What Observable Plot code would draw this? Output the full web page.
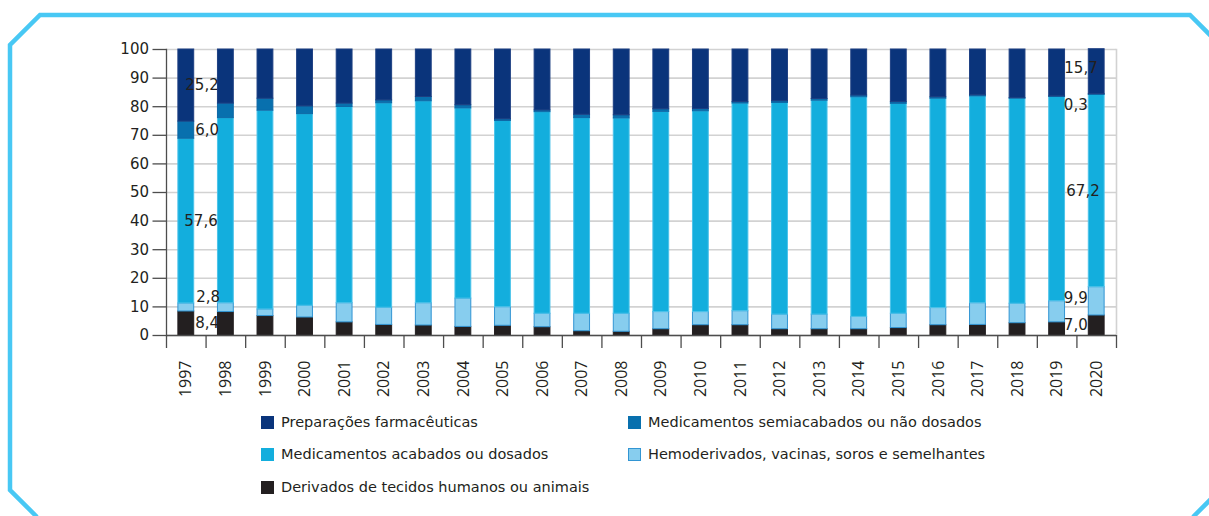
<!DOCTYPE html>
<html>
<head>
<meta charset="utf-8">
<script src="https://cdn.jsdelivr.net/npm/d3@7"></script>
<script src="https://cdn.jsdelivr.net/npm/@observablehq/plot@0.6"></script>
<style>
  html, body { margin: 0; padding: 0; background: #fff; }
  body { width: 1209px; height: 516px; position: relative; overflow: hidden; font-family: "DejaVu Sans", sans-serif; }
  #frame { position: absolute; left: 0; top: 0; }
  #chart { position: absolute; left: 0; top: 0; }
  #legend { position: absolute; left: 0; top: 0; width: 1209px; height: 516px; font-size: 14.5px; color: #231f20; }
  .item { position: absolute; display: flex; align-items: center; height: 20px; white-space: nowrap; }
  .sw { width: 13px; height: 13px; margin-right: 7px; box-sizing: border-box; }
</style>
</head>
<body>
<svg id="frame" width="1209" height="516">
  <path d="M 37 517 L 10 490 L 10 45 L 40 15 L 1190 15 L 1221 46 L 1221 489 L 1193 517"
        fill="none" stroke="#48c8f4" stroke-width="4.5" stroke-linejoin="miter"/>
</svg>
<div id="chart"></div>
<div id="legend"></div>
<script>
// ---- data ----
const years = ["1997","1998","1999","2000","2001","2002","2003","2004","2005","2006","2007","2008",
               "2009","2010","2011","2012","2013","2014","2015","2016","2017","2018","2019","2020"];
const seriesNames = [
  "Derivados de tecidos humanos ou animais",
  "Hemoderivados, vacinas, soros e semelhantes",
  "Medicamentos acabados ou dosados",
  "Medicamentos semiacabados ou não dosados",
  "Preparações farmacêuticas"
];
const derivados     = [8.4, 8.2, 6.8, 6.3, 4.6, 3.7, 3.5, 3.0, 3.4, 2.9, 1.5, 1.3, 2.2, 3.6, 3.6, 2.2, 2.2, 2.2, 2.6, 3.6, 3.7, 4.3, 4.6, 7.0];
const hemoderivados = [2.8, 3.1, 2.3, 4.1, 6.7, 6.0, 7.8, 9.9, 6.5, 4.7, 6.1, 6.3, 6.0, 4.6, 4.9, 5.1, 5.1, 4.3, 5.0, 6.0, 7.6, 6.8, 7.4, 9.9];
const acabados      = [57.6, 64.7, 69.5, 67.0, 68.6, 71.5, 70.6, 66.5, 65.1, 70.5, 68.4, 68.3, 70.0, 70.2, 72.6, 74.0, 74.8, 76.8, 73.4, 73.2, 72.3, 71.7, 71.4, 67.2];
const semiacabados  = [6.0, 5.1, 4.2, 2.7, 1.2, 1.0, 1.5, 1.1, 0.6, 0.6, 1.2, 1.1, 0.9, 0.8, 0.5, 0.6, 0.6, 0.6, 0.6, 0.5, 0.4, 0.2, 0.2, 0.3];
const preparacoes   = [25.2, 18.9, 17.2, 19.9, 18.9, 17.8, 16.6, 19.5, 24.4, 21.3, 22.8, 23.0, 20.9, 20.8, 18.4, 18.1, 17.3, 16.1, 18.4, 16.7, 16.0, 17.0, 16.4, 15.7];
const yTicks = [0, 10, 20, 30, 40, 50, 60, 70, 80, 90, 100];
const labelYears = ["1997", "2020"];
// legend order (as displayed, two columns)
const legendOrder = [4, 3, 2, 1, 0];

// ---- styles ----
const colors = ["#231f20", "#87cdee", "#13aedd", "#0870ae", "#0a347b"];
const strokes = ["#231f20", "#3295d3", "#4cc3ea", "#0d68a6", "#1d3f82"];
// per-label offsets (px): [dx, dy] for first/last year, by series index
const labelOffsets = {
  "1997": [[9, 0], [10, -10], [-2, 0], [9, 0], [-1, 0]],
  "2020": [[-9, 0], [-9, -3], [3, 0], [-9, 11], [1, -3]]
};

const valuesBySeries = [derivados, hemoderivados, acabados, semiacabados, preparacoes];
const table = [];
seriesNames.forEach((s, i) => years.forEach((y, j) => table.push({year: y, series: s, idx: i, value: valuesBySeries[i][j]})));

// label table: midpoints of stacked segments
const labels = [];
labelYears.forEach(y => {
  const j = years.indexOf(y);
  let base = 0;
  valuesBySeries.forEach((arr, i) => {
    const v = arr[j];
    const off = labelOffsets[y][i];
    labels.push({year: y, mid: base + v / 2, text: v.toFixed(1).replace(".", ","), ox: off[0], oy: off[1], first: y === labelYears[0]});
    base += v;
  });
});

const W = 1209, H = 405, mL = 166, mR = 93, mT = 49, mB = 70;
const step = (W - mL - mR) / years.length;

const axisColor = "#4d4d4d";

function offsetRender(sub) {
  return function(index, scales, values, dims, context, next) {
    const g = next(index, scales, values, dims, context);
    d3.select(g).selectAll("text").each(function(_, k) {
      const d = sub[index[k]];
      d3.select(this).attr("transform", `translate(${values.x[index[k]] + d.ox},${values.y[index[k]] + d.oy})`);
    });
    return g;
  };
}
const firstLabels = labels.filter(d => d.first);
const lastLabels = labels.filter(d => !d.first);

const plot = Plot.plot({
  width: W, height: H,
  marginLeft: mL, marginRight: mR, marginTop: mT, marginBottom: mB,
  style: {fontFamily: "DejaVu Sans", fontSize: "15px", color: "#231f20", background: "transparent"},
  x: {type: "band", domain: years, paddingInner: 0.6, paddingOuter: 0.3, align: 0.5, round: false},
  y: {domain: [0, 100]},
  marks: [
    Plot.gridY(yTicks, {stroke: "#d2d2d2", strokeOpacity: 1, strokeWidth: 1.6}),
    Plot.frame({anchor: "right", stroke: "#d2d2d2", strokeWidth: 1.6}),
    Plot.barY(table, Plot.stackY({
      x: "year", y: "value", z: "series", order: seriesNames,
      fill: d => colors[d.idx], stroke: d => strokes[d.idx], strokeWidth: 1
    })),
    Plot.axisY(yTicks, {tickSize: 13.5, tickPadding: 4, stroke: axisColor, strokeWidth: 1.3, fill: "#231f20", fontSize: 15, fontFamily: "DejaVu Sans", label: null, tickFormat: d => String(d)}),
    Plot.frame({anchor: "left", stroke: axisColor, strokeWidth: 1.3}),
    Plot.ruleY([0], {stroke: axisColor, strokeWidth: 1.5}),
    Plot.axisX({tickSize: 13, dx: -step / 2, text: null, stroke: axisColor, strokeWidth: 1.3, label: null}),
    Plot.axisX([years[years.length - 1]], {tickSize: 13, dx: step / 2, text: null, stroke: axisColor, strokeWidth: 1.3, label: null}),
    Plot.axisX({tickSize: 0, tickPadding: 25, tickRotate: -90, fontSize: 16, fontFamily: "Open Sans", fill: "#231f20", label: null}),
    Plot.text(firstLabels, {
      x: "year", y: "mid", text: "text", textAnchor: "start",
      fill: "#231f20", fontSize: 15, fontFamily: "DejaVu Sans", lineAnchor: "middle",
      render: offsetRender(firstLabels)
    }),
    Plot.text(lastLabels, {
      x: "year", y: "mid", text: "text", textAnchor: "end",
      fill: "#231f20", fontSize: 15, fontFamily: "DejaVu Sans", lineAnchor: "middle",
      render: offsetRender(lastLabels)
    })
  ]
});
document.getElementById("chart").appendChild(plot);

// ---- legend (HTML, below the svg) ----
const legend = document.getElementById("legend");
const colX = [261, 628];
const rowY = [412, 444, 477];
legendOrder.forEach((i, k) => {
  const item = document.createElement("div");
  item.className = "item";
  item.style.left = colX[k % 2] + "px";
  item.style.top = rowY[Math.floor(k / 2)] + "px";
  const sw = document.createElement("span");
  sw.className = "sw";
  sw.style.background = colors[i];
  sw.style.border = "1px solid " + (i === 1 ? "#3295d3" : colors[i]);
  const t = document.createElement("span");
  t.textContent = seriesNames[i];
  item.appendChild(sw); item.appendChild(t);
  legend.appendChild(item);
});
</script>
</body>
</html>
